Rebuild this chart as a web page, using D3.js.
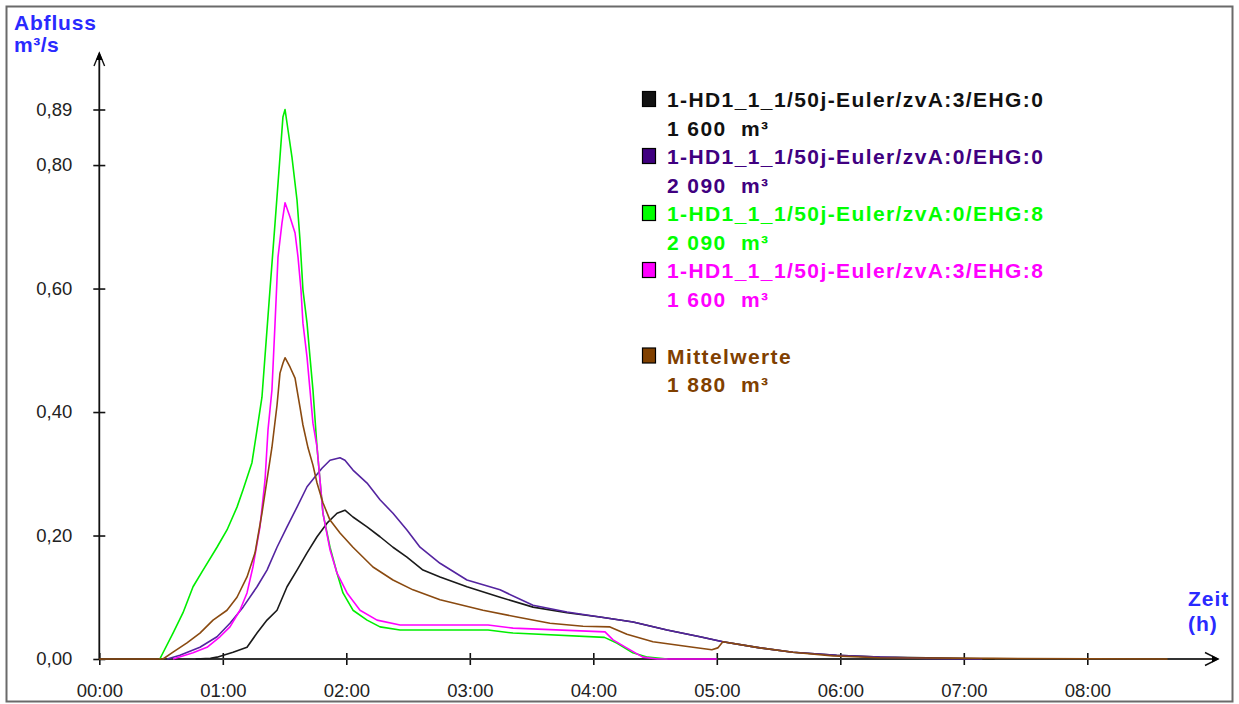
<!DOCTYPE html>
<html><head><meta charset="utf-8">
<script src="https://cdn.jsdelivr.net/npm/d3@7"></script>
<style>
html,body{margin:0;padding:0;background:#fff;}
svg text{white-space:pre;}
</style></head>
<body>
<svg id="chart" width="1239" height="704"></svg>
<script>
// ---- data (time in hours, discharge in m³/s) ----
const seriesNames = [
  "1-HD1_1_1/50j-Euler/zvA:3/EHG:0",
  "1-HD1_1_1/50j-Euler/zvA:0/EHG:0",
  "1-HD1_1_1/50j-Euler/zvA:0/EHG:8",
  "1-HD1_1_1/50j-Euler/zvA:3/EHG:8",
  "Mittelwerte"
];
const seriesVolumes = ["1 600  m³", "2 090  m³", "2 090  m³", "1 600  m³", "1 880  m³"];
const seriesColors = ["#111111", "#400080", "#00ff00", "#ff00ff", "#804000"];
const lineColors = ["#1a1a1a", "#5424a0", "#00ee00", "#ff00ff", "#8a4a10"];

const blackData = [[0.78,0],[0.9,0.001],[0.953,0.003],[1.083,0.011],[1.196,0.019],[1.277,0.042],[1.358,0.063],[1.439,0.079],[1.52,0.117],[1.601,0.144],[1.682,0.172],[1.763,0.198],[1.844,0.22],[1.925,0.236],[1.989,0.241],[2.054,0.23],[2.168,0.214],[2.273,0.198],[2.378,0.181],[2.491,0.165],[2.621,0.144],[2.759,0.133],[2.977,0.117],[3.245,0.1],[3.512,0.084],[3.787,0.075],[4.054,0.068],[4.322,0.06],[4.597,0.047],[4.864,0.036],[5.049,0.028],[5.349,0.018],[5.616,0.011],[5.97,0.006],[6.32,0.003],[6.7,0.002],[7.25,0]];
const purpleData = [[0.55,0],[0.653,0.006],[0.815,0.019],[0.953,0.036],[1.058,0.058],[1.164,0.084],[1.277,0.117],[1.358,0.144],[1.439,0.181],[1.52,0.214],[1.601,0.246],[1.682,0.279],[1.747,0.295],[1.803,0.309],[1.868,0.322],[1.949,0.326],[1.989,0.322],[2.054,0.306],[2.168,0.285],[2.273,0.258],[2.378,0.236],[2.491,0.209],[2.597,0.181],[2.759,0.155],[2.977,0.128],[3.245,0.112],[3.512,0.087],[3.787,0.076],[4.054,0.068],[4.322,0.06],[4.597,0.047],[4.864,0.036],[5.049,0.028],[5.349,0.018],[5.616,0.011],[5.97,0.006],[6.32,0.003],[6.7,0.001],[7.15,0]];
const greenData = [[0.49,0],[0.597,0.042],[0.678,0.075],[0.759,0.117],[0.84,0.144],[0.953,0.181],[1.034,0.209],[1.115,0.246],[1.164,0.274],[1.236,0.318],[1.277,0.371],[1.317,0.424],[1.382,0.598],[1.423,0.706],[1.463,0.813],[1.487,0.878],[1.504,0.89],[1.56,0.813],[1.601,0.743],[1.625,0.679],[1.649,0.598],[1.682,0.544],[1.706,0.489],[1.73,0.436],[1.763,0.343],[1.811,0.236],[1.868,0.181],[1.925,0.139],[1.973,0.107],[2.054,0.079],[2.168,0.063],[2.273,0.052],[2.435,0.047],[3.148,0.047],[3.35,0.042],[4.09,0.035],[4.19,0.026],[4.32,0.01],[4.44,0.003],[4.6,0]];
const magentaData = [[0.597,0],[0.759,0.01],[0.872,0.019],[0.977,0.036],[1.058,0.052],[1.139,0.079],[1.196,0.107],[1.244,0.149],[1.301,0.214],[1.342,0.29],[1.366,0.371],[1.398,0.436],[1.423,0.544],[1.447,0.651],[1.479,0.706],[1.504,0.739],[1.544,0.716],[1.585,0.69],[1.609,0.651],[1.633,0.598],[1.649,0.544],[1.682,0.489],[1.706,0.436],[1.73,0.382],[1.763,0.343],[1.811,0.236],[1.868,0.177],[1.925,0.139],[2.006,0.107],[2.111,0.079],[2.249,0.063],[2.435,0.055],[3.148,0.055],[3.35,0.05],[4.095,0.044],[4.16,0.031],[4.27,0.018],[4.4,0.003],[4.52,0],[5.0,0]];
const brownData = [[0,0],[0.516,0],[0.597,0.011],[0.71,0.026],[0.815,0.042],[0.921,0.063],[1.034,0.079],[1.115,0.1],[1.196,0.133],[1.261,0.172],[1.317,0.236],[1.358,0.29],[1.398,0.343],[1.439,0.411],[1.463,0.463],[1.487,0.479],[1.504,0.488],[1.544,0.473],[1.585,0.455],[1.601,0.436],[1.625,0.408],[1.649,0.379],[1.69,0.342],[1.73,0.314],[1.763,0.285],[1.811,0.253],[1.868,0.225],[1.949,0.204],[2.054,0.181],[2.216,0.149],[2.378,0.128],[2.54,0.112],[2.759,0.096],[3.107,0.079],[3.382,0.068],[3.649,0.058],[3.917,0.053],[4.135,0.052],[4.272,0.04],[4.483,0.028],[4.807,0.019],[4.96,0.015],[5.008,0.018],[5.049,0.028],[5.349,0.018],[5.616,0.011],[5.94,0.005],[6.32,0.002],[7.25,0.001],[8.65,0]];
const seriesData = [blackData, purpleData, greenData, magentaData, brownData];

const xTickValues = [0,1,2,3,4,5,6,7,8];
const xTickLabels = ["00:00","01:00","02:00","03:00","04:00","05:00","06:00","07:00","08:00"];
const yTickValues = [0, 0.2, 0.4, 0.6, 0.8, 0.89];
const yTickLabels = ["0,00","0,20","0,40","0,60","0,80","0,89"];

// ---- drawing ----
const svg = d3.select("#chart");
const x = d3.scaleLinear().domain([0, 9]).range([99.3, 1210.8]);
const y = d3.scaleLinear().domain([0, 0.89]).range([659, 109.5]);

// frame
svg.append("rect").attr("x",6.5).attr("y",6.5).attr("width",1226).attr("height",695)
  .attr("fill","none").attr("stroke","#6a6a6a").attr("stroke-width",2);

const labelFont = "'Liberation Sans', Arial, sans-serif";

// x axis
const xAxis = svg.append("g").attr("transform","translate(0,659)")
  .call(d3.axisBottom(x).tickValues(xTickValues).tickFormat((d,i)=>xTickLabels[i]).tickSizeOuter(0).tickSizeInner(6).tickPadding(14));
xAxis.select(".domain").remove();
xAxis.selectAll(".tick line").attr("y1",-6).attr("y2",6).attr("stroke","#111").attr("stroke-width",1.6);
xAxis.selectAll(".tick text").attr("font-family",labelFont).attr("font-size",18.5).attr("fill","#222").attr("dy","0.95em");

// y axis
const yAxis = svg.append("g").attr("transform","translate(99.3,0)")
  .call(d3.axisLeft(y).tickValues(yTickValues).tickFormat((d,i)=>yTickLabels[i]).tickSizeOuter(0).tickSizeInner(6).tickPadding(21));
yAxis.select(".domain").remove();
yAxis.selectAll(".tick line").attr("x1",-6).attr("x2",6).attr("stroke","#111").attr("stroke-width",1.6);
yAxis.selectAll(".tick text").attr("font-family",labelFont).attr("font-size",18.5).attr("fill","#222");

// axis lines with arrows
svg.append("line").attr("x1",99.3).attr("x2",1218).attr("y1",659).attr("y2",659).attr("stroke","#333").attr("stroke-width",2);
svg.append("line").attr("x1",99.3).attr("x2",99.3).attr("y1",659).attr("y2",55).attr("stroke","#111").attr("stroke-width",1.8);
svg.append("path").attr("d","M1205,652.5 L1218,659 L1205,665.5").attr("fill","none").attr("stroke","#111").attr("stroke-width",1.4);
svg.append("path").attr("d","M1212,655.5 L1219,659 L1212,662.5 Z").attr("fill","#000");
svg.append("path").attr("d","M94,66 L99.3,53 L104.6,66").attr("fill","none").attr("stroke","#111").attr("stroke-width",1.4);
svg.append("path").attr("d","M96,60 L99.3,52 L102.6,60 Z").attr("fill","#000");

// lines
const line = d3.line().x(d=>x(d[0])).y(d=>y(d[1]));
seriesData.forEach((data,i)=>{
  svg.append("path").datum(data).attr("d",line).attr("fill","none")
    .attr("stroke",lineColors[i]).attr("stroke-width",1.6).attr("stroke-linejoin","round");
});

// axis titles
const titleColor = "#2a2aff";
svg.append("text").attr("x",14).attr("y",30).text("Abfluss").attr("font-family",labelFont).attr("font-weight","bold").attr("font-size",21).attr("letter-spacing",0.8).attr("fill",titleColor);
svg.append("text").attr("x",14).attr("y",52).text("m³/s").attr("font-family",labelFont).attr("font-weight","bold").attr("font-size",21).attr("letter-spacing",0.5).attr("fill",titleColor);
svg.append("text").attr("x",1188).attr("y",606).text("Zeit").attr("font-family",labelFont).attr("font-weight","bold").attr("font-size",21).attr("letter-spacing",1).attr("fill",titleColor);
svg.append("text").attr("x",1188).attr("y",631).text("(h)").attr("font-family",labelFont).attr("font-weight","bold").attr("font-size",21).attr("letter-spacing",1).attr("fill",titleColor);

// legend
const legendRows = [0,2,4,6,9];
const lh = 28.5, base0 = 107;
seriesNames.forEach((name,i)=>{
  const b = base0 + legendRows[i]*lh;
  svg.append("rect").attr("x",642.5).attr("y",b-15.5).attr("width",13).attr("height",15)
    .attr("fill",seriesColors[i]).attr("stroke","#000").attr("stroke-width",1.2);
  svg.append("text").attr("x",667).attr("y",b).text(name)
    .attr("font-family",labelFont).attr("font-weight","bold").attr("font-size",21).attr("letter-spacing",1.4).attr("fill",seriesColors[i]);
  svg.append("text").attr("x",667).attr("y",b+lh).text(seriesVolumes[i])
    .attr("font-family",labelFont).attr("font-weight","bold").attr("font-size",21).attr("letter-spacing",1.4).attr("fill",seriesColors[i]);
});
</script>
</body></html>
